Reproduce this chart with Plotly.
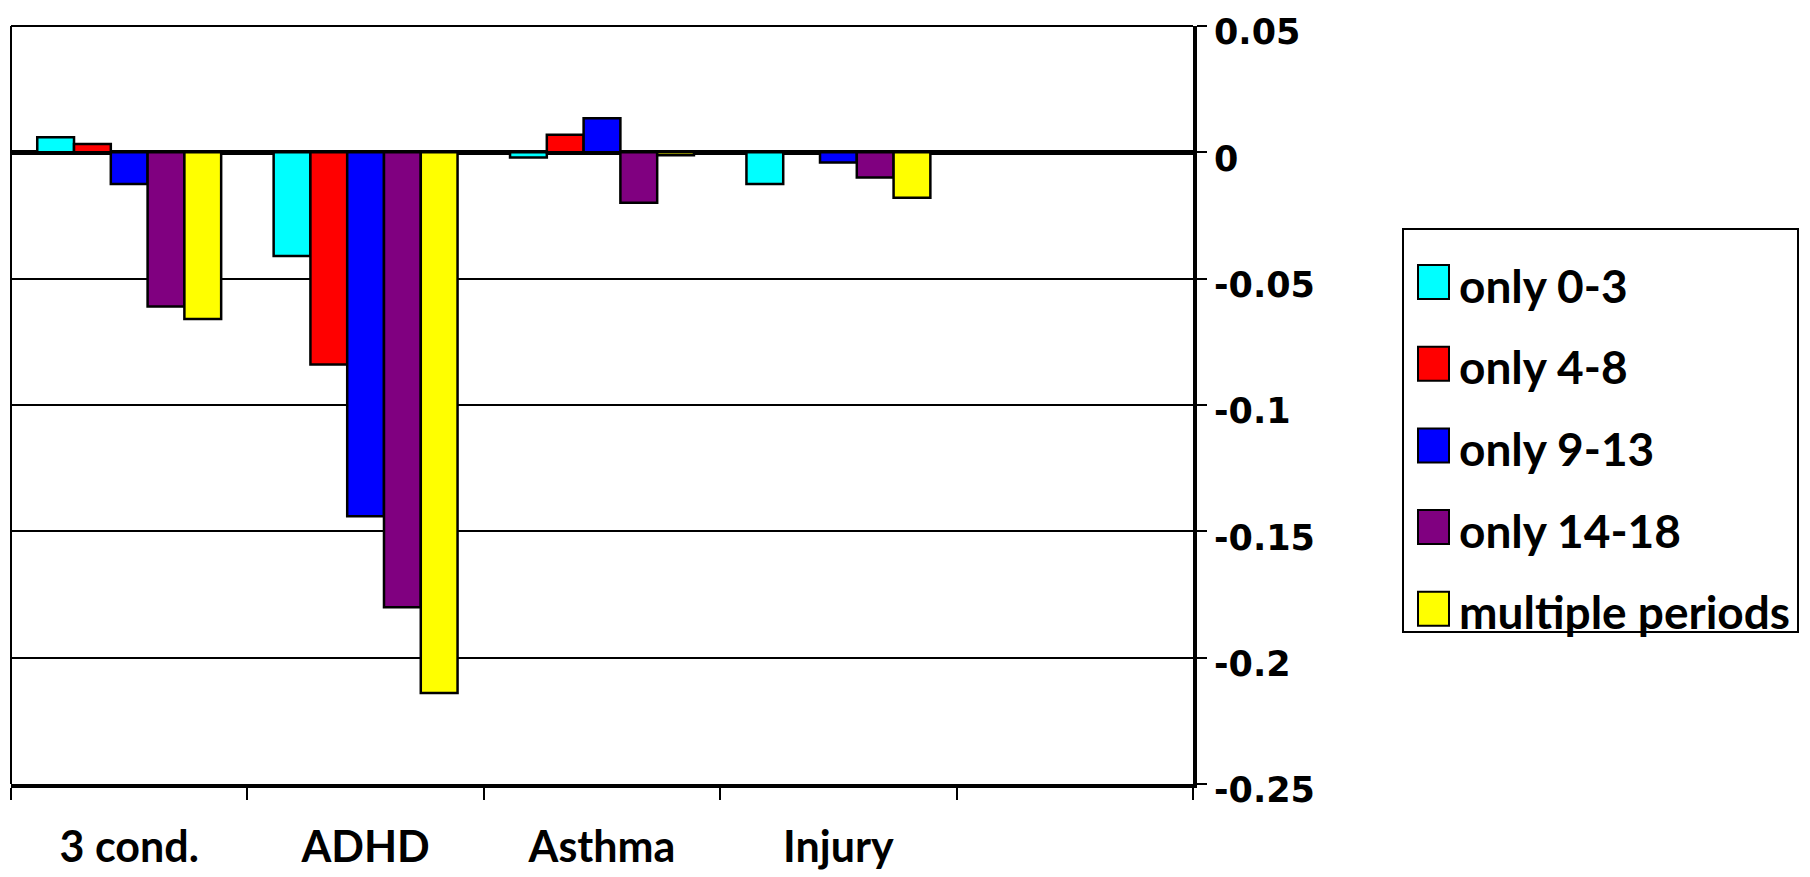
import plotly.graph_objects as go

# ---- data ----
categories = ["3 cond.", "ADHD", "Asthma", "Injury", " "]
series_names = ["only 0-3", "only 4-8", "only 9-13", "only 14-18", "multiple periods"]
series_colors = ["#00FFFF", "#FF0000", "#0000FF", "#800080", "#FFFF00"]
only_0_3 = [0.006, -0.041, -0.002, -0.0125, None]
only_4_8 = [0.0033, -0.084, 0.007, 0.0, None]
only_9_13 = [-0.0125, -0.144, 0.0135, -0.004, None]
only_14_18 = [-0.061, -0.180, -0.020, -0.010, None]
multiple_periods = [-0.066, -0.214, -0.0012, -0.018, None]
series_values = [only_0_3, only_4_8, only_9_13, only_14_18, multiple_periods]
y_tick_vals = [0.05, 0, -0.05, -0.1, -0.15, -0.2, -0.25]
y_tick_text = ["0.05", "0", "-0.05", "-0.1", "-0.15", "-0.2", "-0.25"]

OFF = 8  # default page body margin
W, H = 1810 - OFF, 877 - OFF
L, T = 11 - OFF, 26 - OFF
R = W - (1193 - OFF)
B = H - (784 - OFF)
pw, ph = W - L - R, H - T - B

fig = go.Figure()
for name, color, vals in zip(series_names, series_colors, series_values):
    fig.add_trace(go.Bar(
        x=categories, y=vals, name=name,
        marker=dict(color=color, line=dict(color="black", width=2.5)),
        showlegend=False,
    ))

def px_x(px):  # page pixel -> paper
    return (px - OFF - L) / pw

def px_y(py):
    return (H - B - (py - OFF)) / ph

shapes = [
    dict(type="line", xref="paper", yref="paper", x0=0, x1=0, y0=0, y1=1,
         line=dict(color="black", width=2)),
    dict(type="line", xref="paper", yref="paper", x0=0, x1=1, y0=1, y1=1,
         line=dict(color="black", width=2)),
]
annotations = []

# manual legend box
lx0, lx1, ly0, ly1 = 1403, 1798, 229, 632
shapes.append(dict(type="rect", xref="paper", yref="paper",
                   x0=px_x(lx0), x1=px_x(lx1), y0=px_y(ly1), y1=px_y(ly0),
                   line=dict(color="black", width=2), fillcolor="white"))
row0, row_step = 282, 81.7
for i, (name, color) in enumerate(zip(series_names, series_colors)):
    cy = row0 + i * row_step
    shapes.append(dict(type="rect", xref="paper", yref="paper",
                       x0=px_x(1418), x1=px_x(1449), y0=px_y(cy + 17), y1=px_y(cy - 17),
                       line=dict(color="black", width=2), fillcolor=color))
    annotations.append(dict(xref="paper", yref="paper", x=px_x(1457), y=px_y(cy + 3),
                            xanchor="left", yanchor="middle", showarrow=False,
                            text=name, font=dict(family="Lato", size=46, color="black", weight="bold")))

fig.update_layout(
    width=W, height=H,
    margin=dict(l=L, r=R, t=T, b=B),
    paper_bgcolor="white", plot_bgcolor="white",
    barmode="group", bargap=0.222, bargroupgap=0,
    showlegend=False,
    shapes=shapes, annotations=annotations,
    xaxis=dict(
        type="category", categoryorder="array", categoryarray=categories,
        range=[-0.5, len(categories) - 0.5],
        showline=True, linecolor="black", linewidth=3.5,
        ticks="outside", tickson="boundaries", ticklen=12, tickwidth=2, tickcolor="black",
        showgrid=False, automargin=False, ticklabelstandoff=23,
        ticklabeloverflow="allow",
        tickfont=dict(family="Lato", size=43, color="black", weight="bold"),
    ),
    yaxis=dict(
        side="right", range=[-0.25, 0.05],
        tickvals=y_tick_vals, ticktext=y_tick_text,
        showline=True, linecolor="black", linewidth=4,
        ticks="outside", ticklen=10, tickwidth=2, tickcolor="black",
        showgrid=True, gridcolor="black", gridwidth=1.5,
        zeroline=True, zerolinecolor="black", zerolinewidth=5,
        automargin=False, ticklabeloverflow="allow", ticklabelshift=6,
        tickfont=dict(family="DejaVu Sans", size=35, color="black", weight="bold"),
    ),
)

fig.write_html("out.html")
